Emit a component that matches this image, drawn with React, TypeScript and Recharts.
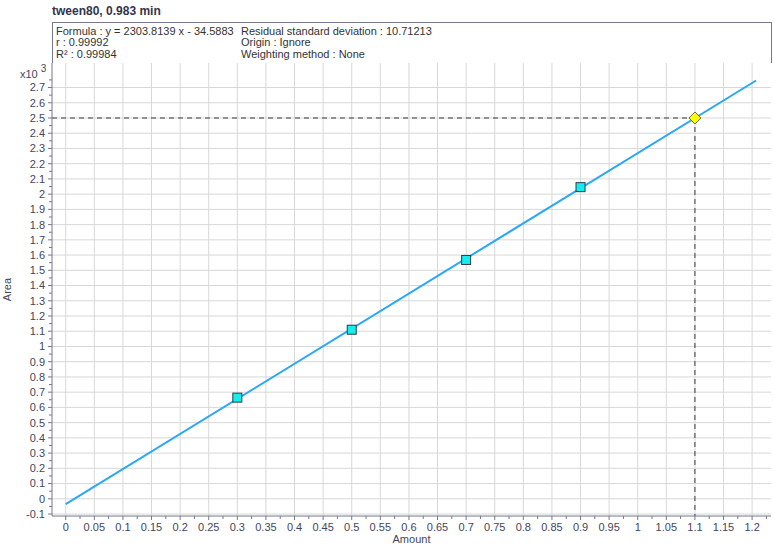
import {
  ComposedChart,
  Line,
  Scatter,
  XAxis,
  YAxis,
  CartesianGrid,
  ReferenceLine,
} from 'recharts';

const X_MAJOR = [
  0, 0.05, 0.1, 0.15, 0.2, 0.25, 0.3, 0.35, 0.4, 0.45, 0.5, 0.55, 0.6, 0.65,
  0.7, 0.75, 0.8, 0.85, 0.9, 0.95, 1, 1.05, 1.1, 1.15, 1.2,
];
const Y_MAJOR = [
  -0.1, 0, 0.1, 0.2, 0.3, 0.4, 0.5, 0.6, 0.7, 0.8, 0.9, 1, 1.1, 1.2, 1.3, 1.4,
  1.5, 1.6, 1.7, 1.8, 1.9, 2, 2.1, 2.2, 2.3, 2.4, 2.5, 2.6, 2.7,
];

// calibration points (Area in x10^3)
const standards = [
  { x: 0.3, y: 0.664 },
  { x: 0.5, y: 1.11 },
  { x: 0.7, y: 1.568 },
  { x: 0.9, y: 2.046 },
];
// fitted line ends
const fitLine = [
  { x: 0, y: -0.035 },
  { x: 1.207, y: 2.746 },
];
// sample
const sample = [{ x: 1.1, y: 2.5 }];

const X_DOMAIN = [-0.024, 1.233];
const Y_DOMAIN = [-0.113, 2.861];

// minor ticks halfway between majors
const mid = (arr: number[]) =>
  arr.slice(0, -1).map((v, i) => +((v + arr[i + 1]) / 2).toFixed(4));
const X_TICKS = [...X_MAJOR, ...mid(X_MAJOR), 1.225];
const Y_TICKS = [...Y_MAJOR, ...mid(Y_MAJOR), 2.75];

const AXIS = '#777790';
const LABEL = '#44465a';
const FONT = '"Liberation Sans", Arial, sans-serif';
const MARGIN = 7;

const fmt = (v: number) => String(+v.toFixed(2));

const XTick = (props: any) => {
  const { x, y, payload } = props;
  const v = payload.value;
  const major = X_MAJOR.some((m) => Math.abs(m - v) < 1e-6);
  const ay = y - MARGIN;
  return (
    <g>
      <line x1={x} x2={x} y1={ay} y2={ay + (major ? 4 : 3)} stroke={AXIS} />
      {major && (
        <text x={x} y={y} dy="0.71em" textAnchor="middle" fill={LABEL} fontSize={11} fontFamily={FONT}>
          {fmt(v)}
        </text>
      )}
    </g>
  );
};

const YTick = (props: any) => {
  const { x, y, payload } = props;
  const v = payload.value;
  const major = Y_MAJOR.some((m) => Math.abs(m - v) < 1e-6);
  const ax = x + MARGIN;
  return (
    <g>
      <line x1={ax - (major ? 4 : 3)} x2={ax} y1={y} y2={y} stroke={AXIS} />
      {major && (
        <text x={x} y={y} dy="0.355em" textAnchor="end" fill={LABEL} fontSize={11} fontFamily={FONT}>
          {fmt(v)}
        </text>
      )}
    </g>
  );
};

const AreaLabel = (props: any) => {
  const vb = props.viewBox || {};
  const cx = 7;
  const cy = (vb.y ?? 63) + (vb.height ?? 453) / 2;
  return (
    <text
      x={cx}
      y={cy}
      dy="0.355em"
      textAnchor="middle"
      transform={`rotate(-90, ${cx}, ${cy})`}
      fill={LABEL}
      fontSize={11}
      fontFamily={FONT}
    >
      Area
    </text>
  );
};

const SquareDot = (props: any) => {
  const { cx, cy } = props;
  return (
    <rect x={cx - 4.5} y={cy - 4.5} width={9} height={9} fill="#14eef0" stroke="#2f3a48" strokeWidth={1} />
  );
};

const Diamond = (props: any) => {
  const { cx, cy } = props;
  const r = 6;
  return (
    <polygon
      points={`${cx},${cy - r} ${cx + r},${cy} ${cx},${cy + r} ${cx - r},${cy}`}
      fill="#ffff00"
      stroke="#6a6a40"
      strokeWidth={1}
    />
  );
};

export default function App() {
  return (
    <div style={{ position: 'relative', width: 775, height: 549, background: '#fff', fontFamily: FONT }}>
      <style>{'body{margin:0}'}</style>
      <div style={{ position: 'absolute', left: 52, top: 4, fontSize: 12, fontWeight: 'bold', color: '#33354a' }}>
        tween80, 0.983 min
      </div>
      <div
        style={{
          position: 'absolute',
          left: 52,
          top: 22,
          width: 718,
          height: 40,
          border: `1px solid ${AXIS}`,
          borderBottom: 'none',
          fontSize: 11,
          lineHeight: '11.4px',
          color: '#333',
        }}
      >
        <div style={{ position: 'absolute', left: 3, top: 3 }}>
          Formula : y = 2303.8139 x - 34.5883
          <br />r : 0.99992
          <br />R² : 0.99984
        </div>
        <div style={{ position: 'absolute', left: 188, top: 3 }}>
          Residual standard deviation : 10.71213
          <br />Origin : Ignore
          <br />Weighting method : None
        </div>
      </div>
      <div style={{ position: 'absolute', left: 20, top: 64, fontSize: 11, color: LABEL }}>
        x10 <sup style={{ fontSize: 10, position: 'relative', top: -1 }}>3</sup>
      </div>
      <div style={{ position: 'absolute', left: 0, top: 0 }}>
        <ComposedChart width={775} height={549} margin={{ top: 63, right: 4, bottom: 0, left: 0 }}>
          <CartesianGrid
            stroke="#d8d8d8"
            strokeWidth={1}
            horizontalValues={Y_MAJOR}
            verticalValues={X_MAJOR}
          />
          <XAxis
            type="number"
            dataKey="x"
            domain={X_DOMAIN}
            ticks={X_TICKS}
            interval={0}
            height={33}
            tickSize={0}
            tickMargin={MARGIN}
            tickLine={false}
            tick={XTick}
            axisLine={{ stroke: AXIS }}
            allowDataOverflow
            label={{ value: 'Amount', position: 'insideBottom', offset: 6, fill: LABEL, fontSize: 11, fontFamily: FONT }}
          />
          <XAxis
            xAxisId="top"
            orientation="top"
            type="number"
            domain={X_DOMAIN}
            height={0}
            tick={false}
            tickLine={false}
            axisLine={{ stroke: AXIS }}
            allowDataOverflow
          />
          <YAxis
            type="number"
            dataKey="y"
            domain={Y_DOMAIN}
            ticks={Y_TICKS}
            interval={0}
            width={52}
            tickSize={0}
            tickMargin={MARGIN}
            tickLine={false}
            tick={YTick}
            axisLine={{ stroke: AXIS }}
            allowDataOverflow
            label={{ content: AreaLabel }}
          />
          <YAxis
            yAxisId="right"
            orientation="right"
            type="number"
            domain={Y_DOMAIN}
            width={0}
            tick={false}
            tickLine={false}
            axisLine={{ stroke: AXIS }}
            allowDataOverflow
          />
          <ReferenceLine
            segment={[
              { x: X_DOMAIN[0], y: 2.5 },
              { x: 1.1, y: 2.5 },
            ]}
            stroke="#3a3a3a"
            strokeDasharray="5 4"
          />
          <ReferenceLine
            segment={[
              { x: 1.1, y: 2.5 },
              { x: 1.1, y: Y_DOMAIN[0] },
            ]}
            stroke="#3a3a3a"
            strokeDasharray="5 4"
          />
          <Line
            data={fitLine}
            dataKey="y"
            stroke="#2aa8f8"
            strokeWidth={2}
            dot={false}
            activeDot={false}
            isAnimationActive={false}
          />
          <Scatter data={standards} dataKey="y" shape={SquareDot} isAnimationActive={false} />
          <Scatter data={sample} dataKey="y" shape={Diamond} isAnimationActive={false} />
        </ComposedChart>
      </div>
    </div>
  );
}
